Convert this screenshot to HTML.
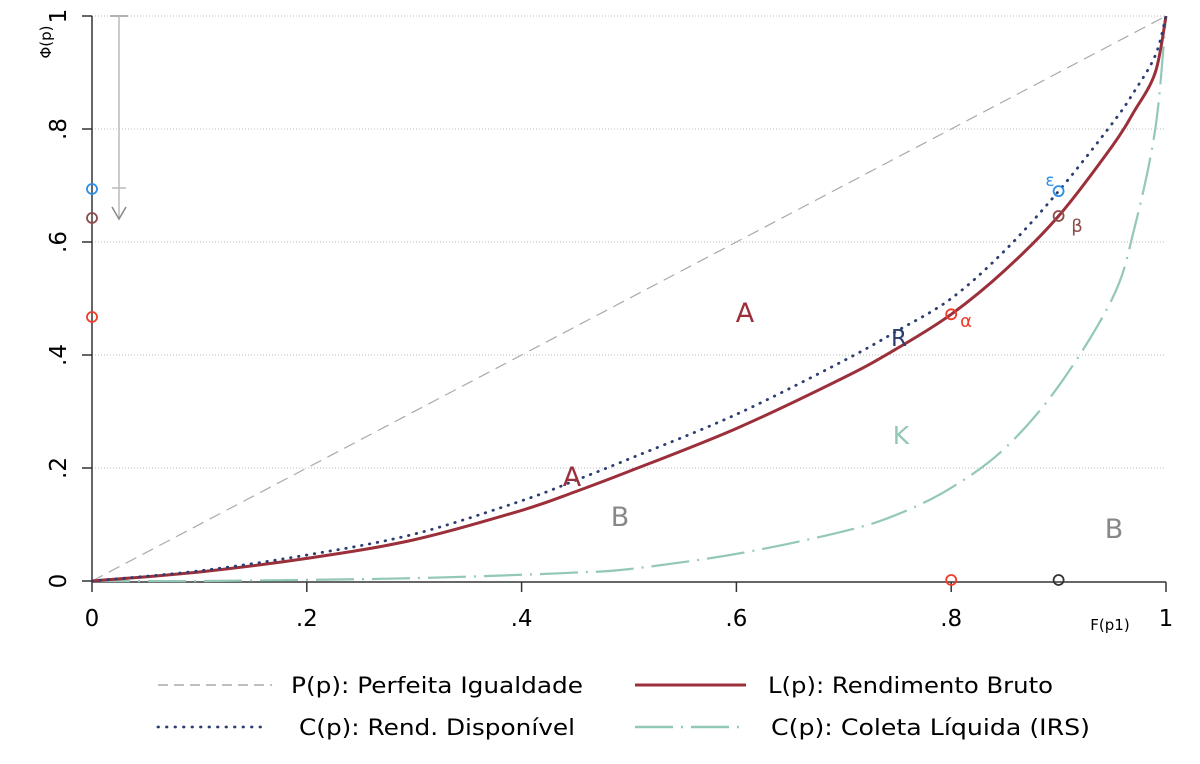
<!DOCTYPE html>
<html><head><meta charset="utf-8"><style>
body{margin:0;background:#fff;}
svg{display:block;font-family:"DejaVu Sans","Liberation Sans",sans-serif;}
</style></head><body>
<svg id="chart" width="1200" height="764" viewBox="0 0 1200 764"></svg>
<script>
const pGrid = [0, .1, .2, .3, .4, .45, .5, .6, .7, .75, .8, .85, .9, .95, .97, .99, 1];
const lorenzL = [0, .016, .04, .073, .125, .158, .194, .27, .36, .412, .472, .55, .646, .77, .83, .9, 1];
const concC  = [0, .018, .046, .083, .142, .178, .216, .295, .39, .443, .5, .585, .69, .81, .865, .93, 1];
const concIRS = [0, 0, .002, .005, .011, .015, .021, .048, .088, .118, .165, .235, .345, .5, .62, .8, 1];
const xTicks = [0, .2, .4, .6, .8, 1];
const xTickLabels = ["0", ".2", ".4", ".6", ".8", "1"];
const yTicks = [0, .2, .4, .6, .8, 1];
const yTickLabels = ["0", ".2", ".4", ".6", ".8", "1"];

const X0 = 92, X1 = 1166, Y0 = 581, Y1 = 16;
const sx = v => X0 + (X1 - X0) * v;
const sy = v => Y0 - (Y0 - Y1) * v;
const NS = "http://www.w3.org/2000/svg";
const svg = document.getElementById('chart');
function mk(tag, attrs, parent) {
  const e = document.createElementNS(NS, tag);
  for (const k in attrs) e.setAttribute(k, attrs[k]);
  (parent || svg).appendChild(e);
  return e;
}
function smoothPath(xs, ys) {
  const pts = xs.map((p, i) => [sx(p), sy(ys[i])]);
  let d = `M${pts[0][0]},${pts[0][1]}`;
  for (let i = 0; i < pts.length - 1; i++) {
    const p0 = pts[Math.max(0, i - 1)], p1 = pts[i], p2 = pts[i + 1], p3 = pts[Math.min(pts.length - 1, i + 2)];
    const c1 = [p1[0] + (p2[0] - p0[0]) / 6, p1[1] + (p2[1] - p0[1]) / 6];
    const c2 = [p2[0] - (p3[0] - p1[0]) / 6, p2[1] - (p3[1] - p1[1]) / 6];
    d += ` C${c1[0]},${c1[1]} ${c2[0]},${c2[1]} ${p2[0]},${p2[1]}`;
  }
  return d;
}

yTicks.forEach((t, i) => {
  if (t > 0) {
    const g = mk('line', {x1: X0, x2: X1, y1: sy(t), y2: sy(t), stroke: '#bbb', 'stroke-width': 1, 'stroke-dasharray': '1,2'});
    
    
  }
});
const ya = mk('line', {x1: X0, x2: X0, y1: Y1, y2: Y0 + 1, stroke: '#333', 'stroke-width': 1.5});


const xa = mk('line', {x1: X0, x2: X1, y1: Y0 + 1, y2: Y0 + 1, stroke: '#333', 'stroke-width': 1.5});


yTicks.forEach((t, i) => {
  mk('line', {x1: X0 - 10, x2: X0, y1: sy(t), y2: sy(t), stroke: '#333', 'stroke-width': 1.5});
  const tx = mk('text', {x: 0, y: 0, transform: `translate(${X0 - 26},${sy(t)}) rotate(-90)`, 'text-anchor': 'middle', 'font-size': 23, fill: '#000'});
  tx.textContent = yTickLabels[i];
  
  
});
xTicks.forEach((t, i) => {
  mk('line', {x1: sx(t), x2: sx(t), y1: Y0 + 1, y2: Y0 + 11, stroke: '#333', 'stroke-width': 1.5});
  const tx = mk('text', {x: sx(t), y: 626, 'text-anchor': 'middle', 'font-size': 23, fill: '#000'});
  tx.textContent = xTickLabels[i];
  
  
});
const yt = mk('text', {transform: 'translate(51,42) rotate(-90)', 'text-anchor': 'middle', 'font-size': 15, fill: '#000'});
yt.textContent = 'Φ(p)';


const xt = mk('text', {x: 1110, y: 630, 'text-anchor': 'middle', 'font-size': 15, fill: '#000'});
xt.textContent = 'F(p1)';



const eq = mk('line', {x1: sx(0), y1: sy(0), x2: sx(1), y2: sy(1), stroke: '#aaa', 'stroke-width': 1.2, 'stroke-dasharray': '12,7'});


const irs = mk('path', {d: smoothPath(pGrid, concIRS), fill: 'none', stroke: '#93c8b8', 'stroke-width': 2.2, 'stroke-dasharray': '38,8,2,8'});


const lp = mk('path', {d: smoothPath(pGrid, lorenzL), fill: 'none', stroke: '#9b2f3a', 'stroke-width': 3});


const cp = mk('path', {d: smoothPath(pGrid, concC), fill: 'none', stroke: '#2c3e70', 'stroke-width': 2.8, 'stroke-dasharray': '0.5,7.5', 'stroke-linecap': 'round'});



mk('line', {x1: 110, x2: 128, y1: 16, y2: 16, stroke: '#999', 'stroke-width': 1.5});
mk('line', {x1: 119, x2: 119, y1: 16, y2: 218, stroke: '#bbb', 'stroke-width': 1.5});
mk('line', {x1: 112, x2: 126, y1: 188, y2: 188, stroke: '#bbb', 'stroke-width': 1.5});
const ar = mk('path', {d: 'M112,207 L119,219 L126,207', fill: 'none', stroke: '#888', 'stroke-width': 1.5});



function circ(x, y, col, name) {
  const c = mk('circle', {cx: x, cy: y, r: 5, fill: 'none', stroke: col, 'stroke-width': 1.8});
  
  
}
circ(92, 189, '#2b8fe8', 'epsilon-y-marker');
circ(92, 218, '#8f4a4a', 'beta-y-marker');
circ(92, 317, '#f03a2a', 'alpha-y-marker');
circ(sx(.9), sy(.69), '#2b8fe8', 'epsilon-marker');
circ(sx(.9), sy(.646), '#8f4a4a', 'beta-marker');
circ(sx(.8), sy(.472), '#f03a2a', 'alpha-marker');
circ(sx(.8), 580, '#f03a2a', 'alpha-x-marker');
circ(sx(.9), 580, '#333', 'x-marker');

function lbl(x, y, txt, col, size, name) {
  const t = mk('text', {x: x, y: y, 'font-size': size, fill: col, 'text-anchor': 'middle'});
  t.textContent = txt;
  
  
}
lbl(1050, 186, 'ε', '#2b8fe8', 17, 'epsilon-label');
lbl(1077, 232, 'β', '#8f4a4a', 18, 'beta-label');
lbl(966, 327, 'α', '#f03a2a', 18, 'alpha-label');
lbl(745, 322, 'A', '#9b2f3a', 27, 'area-a-label');
lbl(572, 486, 'A', '#9b2f3a', 27, 'area-a-label-2');
lbl(899, 346, 'R', '#2c3e70', 23, 'r-label');
lbl(901, 444, 'K', '#93c8b8', 25, 'k-label');
lbl(620, 526, 'B', '#888', 27, 'area-b-label');
lbl(1114, 538, 'B', '#888', 27, 'area-b-label-2');

function leg(x1, x2, y, attrs, tx, tw, txt, name) {
  const g = mk('g', {});
  
  
  mk('line', Object.assign({x1: x1, x2: x2, y1: y, y2: y}, attrs), g);
  const t = mk('text', {x: tx, y: y + 8, 'font-size': 22, fill: '#000', textLength: tw, lengthAdjust: 'spacingAndGlyphs'}, g);
  t.textContent = txt;
}
leg(158, 272, 685, {stroke: '#aaa', 'stroke-width': 1.5, 'stroke-dasharray': '10,6'}, 291, 292, 'P(p): Perfeita Igualdade', 'legend-entry-equality');
leg(635, 746, 685, {stroke: '#9b2f3a', 'stroke-width': 3}, 768, 285, 'L(p): Rendimento Bruto', 'legend-entry-gross');
leg(158, 265, 727, {stroke: '#2c3e70', 'stroke-width': 2.8, 'stroke-dasharray': '0.5,8', 'stroke-linecap': 'round'}, 299, 276, 'C(p): Rend. Disponível', 'legend-entry-disposable');
leg(635, 746, 727, {stroke: '#93c8b8', 'stroke-width': 2.5, 'stroke-dasharray': '38,8,2,8'}, 771, 319, 'C(p): Coleta Líquida (IRS)', 'legend-entry-irs');
</script>
</body></html>
